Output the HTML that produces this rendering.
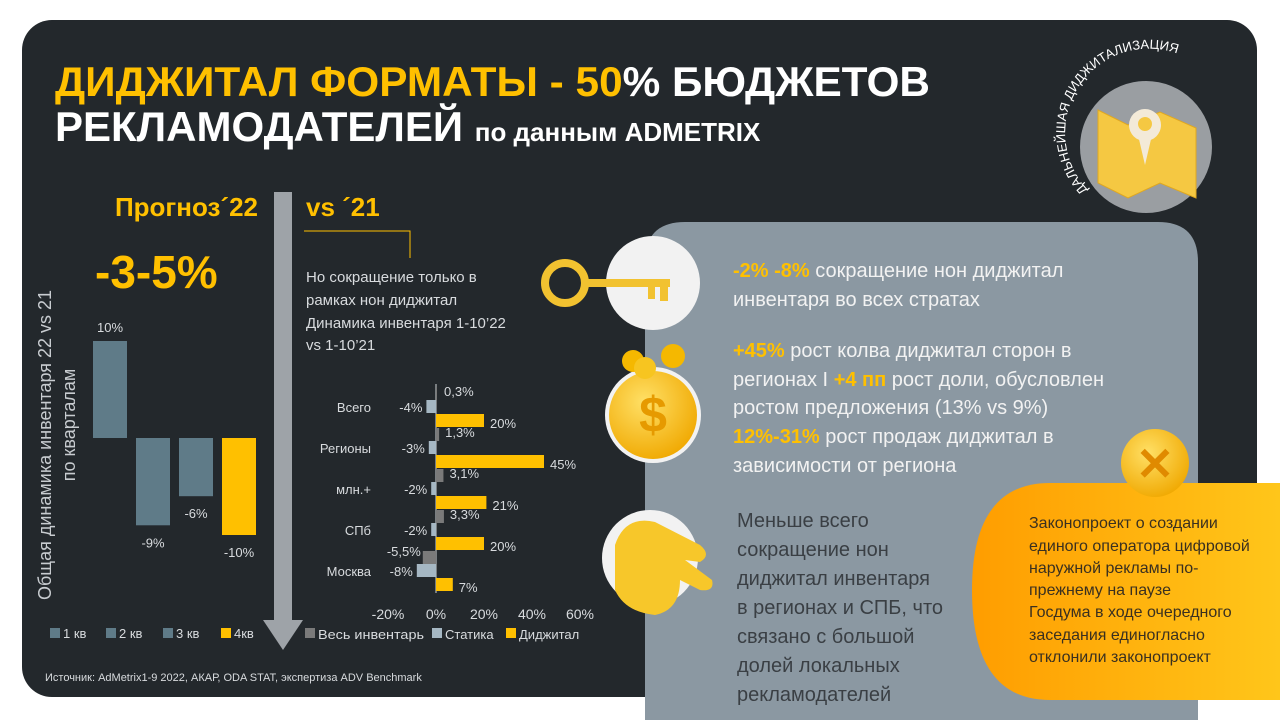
<!DOCTYPE html>
<html><head><meta charset="utf-8">
<style>
html,body{margin:0;padding:0;width:1280px;height:720px;overflow:hidden;background:#fff;}
svg{display:block;font-family:"Liberation Sans",sans-serif;}
.n{font-family:"Liberation Sans Narrow","Liberation Sans",sans-serif;}
</style></head>
<body>
<svg id="s" width="1280" height="720" viewBox="0 0 1280 720" xmlns="http://www.w3.org/2000/svg">
<defs>
<linearGradient id="og" x1="0" y1="0" x2="1" y2="0"><stop offset="0" stop-color="#ff9d00"/><stop offset="1" stop-color="#ffc61a"/></linearGradient>
<radialGradient id="gold" cx="0.4" cy="0.35" r="0.7"><stop offset="0" stop-color="#ffe066"/><stop offset="1" stop-color="#f0a800"/></radialGradient>
</defs>
<rect x="22" y="20" width="1235" height="677" rx="30" fill="#23282c"/>
<text class="n" x="55" y="96" font-size="42" font-weight="bold" fill="#ffc000" textLength="875" lengthAdjust="spacingAndGlyphs">ДИДЖИТАЛ ФОРМАТЫ - 50<tspan fill="#fff">% БЮДЖЕТОВ</tspan></text>
<text class="n" x="55" y="141" font-size="42" font-weight="bold" fill="#fff">РЕКЛАМОДАТЕЛЕЙ <tspan font-size="26">по данным ADMETRIX</tspan></text>
<circle cx="1146" cy="147" r="66" fill="#9a9ea2"/>
<path d="M1098 110 L1128 125 L1160 112 L1196 128 L1196 198 L1160 183 L1128 198 L1098 183Z" fill="#f5c842" stroke="#e0a820"/>
<circle cx="1145" cy="125" r="16" fill="#f3ead8"/><path d="M1138 135 L1145 165 L1152 135Z" fill="#f3ead8"/><circle cx="1145" cy="124" r="7" fill="#f5c842"/>
<path id="arc" d="M1088 190 A70 70 0 0 1 1210 75" fill="none"/>
<text font-size="13" fill="#fff"><textPath href="#arc">ДАЛЬНЕЙШАЯ ДИДЖИТАЛИЗАЦИЯ</textPath></text>
<text class="n" x="258" y="216" text-anchor="end" font-size="26" font-weight="bold" fill="#ffc000">Прогноз´22</text>
<text class="n" x="306" y="216" font-size="26" font-weight="bold" fill="#ffc000">vs ´21</text>
<path d="M304 231 L410 231 L410 258" stroke="#ffc000" fill="none" stroke-width="1"/>
<rect x="274" y="192" width="18" height="430" fill="#9ea3a8"/>
<path d="M263 620 L303 620 L283 650Z" fill="#9ea3a8"/>
<text x="95" y="288" font-size="46" font-weight="bold" fill="#ffc000">-3-5%</text>
<text x="0" y="0" font-size="18" fill="#c8ccd0" transform="translate(51,600) rotate(-90)">Общая динамика инвентаря  22 vs 21</text>
<text x="0" y="0" font-size="18" fill="#c8ccd0" text-anchor="middle" transform="translate(75,425) rotate(-90)">по кварталам</text>
<g id="qchart"></g>
<text font-size="15" fill="#d8dbde"><tspan x="306" y="282">Но сокращение только в</tspan><tspan x="306" y="305">рамках нон диджитал</tspan><tspan x="306" y="328">Динамика инвентаря 1-10’22</tspan><tspan x="306" y="350">vs 1-10’21</tspan></text>
<g id="hchart"></g>
<text x="45" y="681" font-size="11" fill="#d8dbde">Источник: AdMetrix1-9 2022, АКАР, ODA STAT, экспертиза ADV Benchmark</text>
<path d="M645 720 L645 262 Q645 222 685 222 L1158 222 Q1198 222 1198 262 L1198 720Z" fill="#8b98a2"/>
<circle cx="653" cy="283" r="47" fill="#f2f2f2"/>
<circle cx="565" cy="283" r="20" fill="none" stroke="#f2c230" stroke-width="8"/>
<rect x="585" y="279" width="85" height="8" fill="#f2c230"/><rect x="648" y="287" width="7" height="12" fill="#f2c230"/><rect x="660" y="287" width="8" height="14" fill="#f2c230"/>
<circle cx="653" cy="415" r="48" fill="#f2f2f2"/>
<circle cx="653" cy="415" r="44" fill="url(#gold)"/>
<text x="653" y="432" text-anchor="middle" font-size="50" font-weight="bold" fill="#e69a00">$</text>
<circle cx="633" cy="361" r="11" fill="#f5b800"/><circle cx="673" cy="356" r="12" fill="#f5b800"/><circle cx="645" cy="368" r="11" fill="#f7c520"/>
<circle cx="650" cy="558" r="48" fill="#f2f2f2"/>
<path d="M615 545 Q625 515 655 522 L700 545 Q712 555 700 562 L685 560 L712 580 Q715 592 700 590 L680 580 Q680 610 655 615 Q625 612 615 590Z" fill="#f7c72a"/>
<text font-size="20" fill="#f2f2f2"><tspan x="733" y="277"><tspan fill="#ffc000" font-weight="bold">-2% -8%</tspan> сокращение нон диджитал</tspan><tspan x="733" y="306">инвентаря во всех стратах</tspan></text>
<text font-size="20" fill="#f2f2f2"><tspan x="733" y="357"><tspan fill="#ffc000" font-weight="bold">+45%</tspan> рост колва диджитал сторон в</tspan><tspan x="733" y="386">регионах I <tspan fill="#ffc000" font-weight="bold">+4 пп</tspan> рост доли, обусловлен</tspan><tspan x="733" y="414">ростом предложения (13% vs 9%)</tspan><tspan x="733" y="443"><tspan fill="#ffc000" font-weight="bold">12%-31%</tspan> рост продаж диджитал  в</tspan><tspan x="733" y="472">зависимости от региона</tspan></text>
<text font-size="20" fill="#3a3f44"><tspan x="737" y="527">Меньше всего</tspan><tspan x="737" y="556">сокращение нон</tspan><tspan x="737" y="585">диджитал инвентаря</tspan><tspan x="737" y="614">в регионах и СПБ, что</tspan><tspan x="737" y="643">связано с большой</tspan><tspan x="737" y="672">долей локальных</tspan><tspan x="737" y="701">рекламодателей</tspan></text>
<path d="M1280 483 L1050 483 Q972 483 972 590 Q972 700 1050 700 L1280 700Z" fill="url(#og)"/>
<circle cx="1155" cy="463" r="34" fill="url(#gold)"/>
<text x="1155" y="480" text-anchor="middle" font-size="46" font-weight="bold" fill="#e08a00">✕</text>
<text class="n" font-size="16" fill="#3a3020"><tspan x="1029" y="528">Законопроект о создании</tspan><tspan x="1029" y="551">единого оператора цифровой</tspan><tspan x="1029" y="573">наружной рекламы по-</tspan><tspan x="1029" y="595">прежнему на паузе</tspan><tspan x="1029" y="617">Госдума в ходе очередного</tspan><tspan x="1029" y="640">заседания единогласно</tspan><tspan x="1029" y="662">отклонили законопроект</tspan></text>
</svg>
<script>
const quarters=["1 кв","2 кв","3 кв","4кв"];
const qValues=[10,-9,-6,-10];
const qLabels=["10%","-9%","-6%","-10%"];
const regions=["Всего","Регионы","млн.+","СПб","Москва"];
const totalVals=[0.3,1.3,3.1,3.3,-5.5];
const staticVals=[-4,-3,-2,-2,-8];
const digitalVals=[20,45,21,20,7];
const totalLabels=["0,3%","1,3%","3,1%","3,3%","-5,5%"];
const staticLabels=["-4%","-3%","-2%","-2%","-8%"];
const digitalLabels=["20%","45%","21%","20%","7%"];
const xTicks=[-20,0,20,40,60];
const NS="http://www.w3.org/2000/svg";
function mk(p,t,a){const e=document.createElementNS(NS,t);for(const k in a)e.setAttribute(k,a[k]);p.appendChild(e);return e;}
const qg=document.getElementById('qchart');
const qy=v=>438-v*9.7;
const qx=i=>93+i*43;
const qCol=["#5f7b88","#5f7b88","#5f7b88","#ffc000"];
qValues.forEach((v,i)=>{
 const r=mk(qg,'rect',{x:qx(i),y:Math.min(qy(v),qy(0)),width:34,height:Math.abs(qy(v)-qy(0)),fill:qCol[i]});
 
 
 const t=mk(qg,'text',{x:qx(i)+17,y:v>=0?qy(v)-9:qy(v)+22,'text-anchor':'middle','font-size':13,fill:'#d8dbde'});
 t.textContent=qLabels[i];
 
 
});
const qlx=[50,106,163,221];
quarters.forEach((q,i)=>{
 const s=mk(qg,'rect',{x:qlx[i],y:628,width:10,height:10,fill:qCol[i]});
 
 
 const t=mk(qg,'text',{x:qlx[i]+13,y:638,'font-size':13,fill:'#d8dbde'});
 t.textContent=q;
 
 
});
const hg=document.getElementById('hchart');
const hx=v=>436+v*2.4;
const gy=i=>407+i*41;
mk(hg,'line',{x1:hx(0),y1:384,x2:hx(0),y2:593,stroke:'#cfd3d6','stroke-width':1});
const series=[[totalVals,totalLabels,'#7a7a7a',-14,'total'],[staticVals,staticLabels,'#a5b7c3',-1,'static'],[digitalVals,digitalLabels,'#ffc000',13,'digital']];
regions.forEach((r,i)=>{
 const t=mk(hg,'text',{x:371,y:gy(i)+5,'text-anchor':'end','font-size':13,fill:'#d8dbde'});
 t.textContent=r;
 
 
 series.forEach(([vals,labs,col,off,nm])=>{
  const v=vals[i];const y=gy(i)+off-6;
  const b=mk(hg,'rect',{x:Math.min(hx(v),hx(0)),y:y,width:Math.max(1,Math.abs(hx(v)-hx(0))),height:13,fill:col});
  
  
  let lx,anchor,ly;
  if(nm==='static'){lx=Math.min(hx(v),hx(0))-4;anchor='end';ly=y+12;}
  else if(v<0){lx=hx(v)-2;anchor='end';ly=y+5;}
  else if(nm==='total'){lx=Math.max(hx(v),hx(0)+2)+6;anchor='start';ly=y+9;}
  else {lx=hx(v)+6;anchor='start';ly=y+14;}
  const l=mk(hg,'text',{x:lx,y:ly,'text-anchor':anchor,'font-size':13,fill:'#d8dbde'});
  l.textContent=labs[i];
  
  
 });
});
xTicks.forEach(v=>{
 const t=mk(hg,'text',{x:hx(v),y:619,'text-anchor':'middle','font-size':14,fill:'#d8dbde'});
 t.textContent=v+'%';
 
 
});
const legs=[["Весь инвентарь","#7a7a7a",305],["Статика","#a5b7c3",432],["Диджитал","#ffc000",506]];
legs.forEach(([n,c,x])=>{
 const s=mk(hg,'rect',{x:x,y:628,width:10,height:10,fill:c});
 
 
 const t=mk(hg,'text',{x:x+13,y:639,'font-size':13,fill:'#d8dbde'});
 if(n==="Весь инвентарь"){t.setAttribute('textLength','106');t.setAttribute('lengthAdjust','spacingAndGlyphs');}
 t.textContent=n;
 
 
});
</script>
</body></html>
